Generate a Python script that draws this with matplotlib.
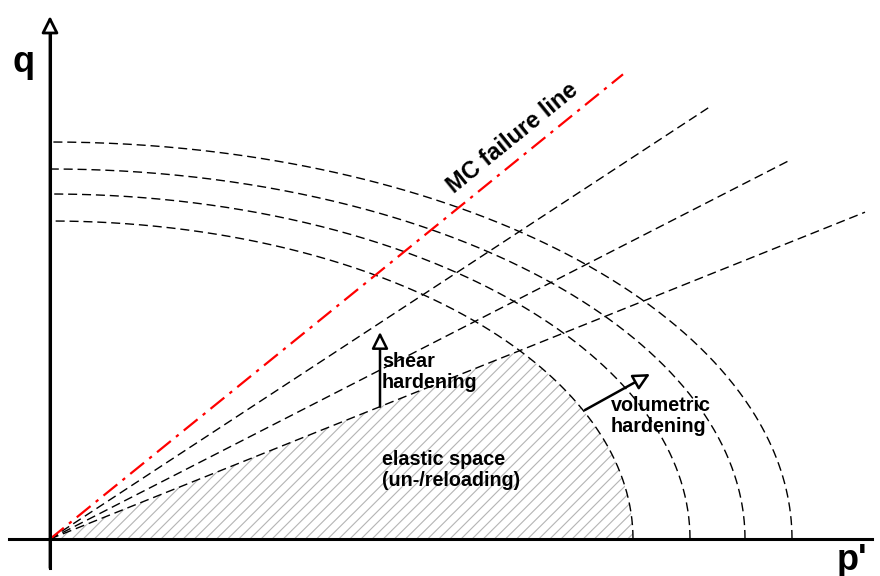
import numpy as np
import matplotlib
matplotlib.use("Agg")
import matplotlib.pyplot as plt
from matplotlib.patches import Polygon

plt.rcParams['font.family'] = ['Liberation Sans', 'DejaVu Sans']
plt.rcParams['hatch.linewidth'] = 0.8

# Yield caps: quarter ellipses (p' intercept, q intercept)
cap_p = [583, 640, 695, 742]
cap_q = [318, 345, 370, 397]

# Shear yield lines through the origin: slope and end p'
shear_slopes = [0.401, 0.512, 0.655]
shear_ends = [815, 740, 660]

# Mohr-Coulomb failure line
mc_slope = 0.811
mc_end = 573

fig = plt.figure(figsize=(8.8, 5.76), dpi=100)
ax = fig.add_axes([0, 0, 1, 1])
ax.set_xlim(-50, 830)
ax.set_ylim(-37, 539)
ax.set_aspect('equal')
ax.axis('off')

dash = (0, (6.5, 3.5))

# elastic region: under the lowest shear line and inside the smallest cap
a, b = cap_p[0], cap_q[0]
k = shear_slopes[0]
p_int = 1.0 / np.sqrt(1.0 / a**2 + (k / b)**2)
th0 = np.arccos(p_int / a)
th = np.linspace(th0, 0, 200)
pts = [(0, 0), (p_int, k * p_int)] + list(zip(a * np.cos(th), b * np.sin(th)))
hatch_poly = Polygon(pts, closed=True, facecolor='none', edgecolor='#b4b4b4',
                     hatch='///', linewidth=0, zorder=1)
ax.add_patch(hatch_poly)

# yield caps
t = np.linspace(0, np.pi / 2, 300)
for a_, b_ in zip(cap_p, cap_q):
    ax.plot(a_ * np.cos(t), b_ * np.sin(t), color='black', lw=1.0,
            linestyle=dash, zorder=3)

# shear yield lines
for s, e in zip(shear_slopes, shear_ends):
    ax.plot([0, e], [0, s * e], color='black', lw=1.0, linestyle=dash, zorder=3)

# MC failure line
ax.plot([0, mc_end], [0, mc_slope * mc_end], color='#ff0000', lw=1.6,
        linestyle=(0, (8, 3, 1.5, 3)), zorder=4)

# axes with open arrow heads
head = dict(arrowstyle='-|>,head_length=1.0,head_width=0.5', mutation_scale=10,
            lw=2.0, color='black', fc='white', shrinkA=0, shrinkB=0)
ax.annotate('', xy=(0, 523), xytext=(0, -29), arrowprops=head, zorder=5)
ax.annotate('', xy=(838, 0), xytext=(-41, 0), arrowprops=head, zorder=5)
ax.plot([0, 0], [-29, 505], color='black', lw=2.2, zorder=5)
ax.plot([-41, 822], [0, 0], color='black', lw=2.2, zorder=5)

ax.text(-38, 477, 'q', fontsize=26, fontweight='bold', ha='left', va='center')
ax.text(787, -21, "p'", fontsize=26, fontweight='bold', ha='left', va='center')

# hardening arrows
small = dict(arrowstyle='-|>,head_length=1.0,head_width=0.5', mutation_scale=10,
             lw=1.8, color='black', fc='white', shrinkA=0, shrinkB=0)
x_sh = 330
ax.annotate('', xy=(x_sh, 207), xytext=(x_sh, shear_slopes[0] * x_sh),
            arrowprops=small, zorder=6)
ax.annotate('', xy=(600, 165), xytext=(535, 129), arrowprops=small, zorder=6)

ax.text(332, 187, 'shear\nhardening', fontsize=14.2, fontweight='bold',
        ha='left', va='top', linespacing=1.1, zorder=7)
ax.text(561, 143, 'volumetric\nhardening', fontsize=14.2, fontweight='bold',
        ha='left', va='top', linespacing=1.1, zorder=7)
ax.text(332, 89, 'elastic space\n(un-/reloading)', fontsize=14.2,
        fontweight='bold', ha='left', va='top', linespacing=1.15, zorder=7)

ang = np.degrees(np.arctan(mc_slope))
ax.text(463, 401, 'MC failure line', fontsize=17, fontweight='bold',
        rotation=ang, rotation_mode='anchor', ha='center', va='center', zorder=7)

fig.savefig('out.png', dpi=100, facecolor='white')
